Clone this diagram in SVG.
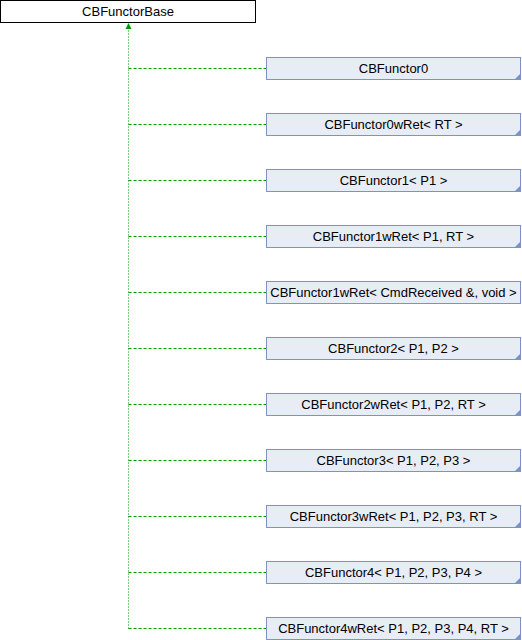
<svg xmlns="http://www.w3.org/2000/svg" width="522" height="640" viewBox="0 0 522 640">
<style>
.lbl{font-family:"Liberation Sans",Arial,sans-serif;font-size:13px;fill:#000;text-anchor:middle}
.base{fill:#fff;stroke:#000;stroke-width:1}
.cls{fill:#e8ecf5;stroke:#7c92c8;stroke-width:1}
.fold{fill:#7c92c8}
.h{stroke:#009900;stroke-width:1;fill:none;stroke-dasharray:3,2}
.v{stroke:#009900;stroke-width:1;fill:none;stroke-dasharray:1,2}
</style>
<g id="connectors">
<path class="v" d="M128.5,628.5 V24"/>
<path d="M128.5,23 L131.5,29 L125.5,29 Z" fill="#009900"/>
<path class="h" d="M128.5,68.5 H266"/>
<path class="h" d="M128.5,124.5 H266"/>
<path class="h" d="M128.5,180.5 H266"/>
<path class="h" d="M128.5,236.5 H266"/>
<path class="h" d="M128.5,292.5 H266"/>
<path class="h" d="M128.5,348.5 H266"/>
<path class="h" d="M128.5,404.5 H266"/>
<path class="h" d="M128.5,460.5 H266"/>
<path class="h" d="M128.5,516.5 H266"/>
<path class="h" d="M128.5,572.5 H266"/>
<path class="h" d="M128.5,628.5 H266"/>
</g>
<g id="CBFunctorBase"><rect class="base" x="0.5" y="0.5" width="255" height="22"/><text class="lbl" x="128" y="16">CBFunctorBase</text></g>
<g id="CBFunctor0"><rect class="cls" x="266.5" y="57.5" width="254" height="22"/><path class="fold" d="M521,73 V80 H514 Z"/><text class="lbl" x="393.5" y="73">CBFunctor0</text></g>
<g id="CBFunctor0wRet"><rect class="cls" x="266.5" y="113.5" width="254" height="22"/><path class="fold" d="M521,129 V136 H514 Z"/><text class="lbl" x="393.5" y="129">CBFunctor0wRet&lt; RT &gt;</text></g>
<g id="CBFunctor1"><rect class="cls" x="266.5" y="169.5" width="254" height="22"/><path class="fold" d="M521,185 V192 H514 Z"/><text class="lbl" x="393.5" y="185">CBFunctor1&lt; P1 &gt;</text></g>
<g id="CBFunctor1wRet"><rect class="cls" x="266.5" y="225.5" width="254" height="22"/><path class="fold" d="M521,241 V248 H514 Z"/><text class="lbl" x="393.5" y="241">CBFunctor1wRet&lt; P1, RT &gt;</text></g>
<g id="CBFunctor1wRetCmd"><rect class="cls" x="266.5" y="281.5" width="254" height="22"/><text class="lbl" x="393.5" y="297">CBFunctor1wRet&lt; CmdReceived &amp;, void &gt;</text></g>
<g id="CBFunctor2"><rect class="cls" x="266.5" y="337.5" width="254" height="22"/><path class="fold" d="M521,353 V360 H514 Z"/><text class="lbl" x="393.5" y="353">CBFunctor2&lt; P1, P2 &gt;</text></g>
<g id="CBFunctor2wRet"><rect class="cls" x="266.5" y="393.5" width="254" height="22"/><path class="fold" d="M521,409 V416 H514 Z"/><text class="lbl" x="393.5" y="409">CBFunctor2wRet&lt; P1, P2, RT &gt;</text></g>
<g id="CBFunctor3"><rect class="cls" x="266.5" y="449.5" width="254" height="22"/><path class="fold" d="M521,465 V472 H514 Z"/><text class="lbl" x="393.5" y="465">CBFunctor3&lt; P1, P2, P3 &gt;</text></g>
<g id="CBFunctor3wRet"><rect class="cls" x="266.5" y="505.5" width="254" height="22"/><path class="fold" d="M521,521 V528 H514 Z"/><text class="lbl" x="393.5" y="521">CBFunctor3wRet&lt; P1, P2, P3, RT &gt;</text></g>
<g id="CBFunctor4"><rect class="cls" x="266.5" y="561.5" width="254" height="22"/><path class="fold" d="M521,577 V584 H514 Z"/><text class="lbl" x="393.5" y="577">CBFunctor4&lt; P1, P2, P3, P4 &gt;</text></g>
<g id="CBFunctor4wRet"><rect class="cls" x="266.5" y="617.5" width="254" height="22"/><path class="fold" d="M521,633 V640 H514 Z"/><text class="lbl" x="393.5" y="633">CBFunctor4wRet&lt; P1, P2, P3, P4, RT &gt;</text></g>
</svg>
